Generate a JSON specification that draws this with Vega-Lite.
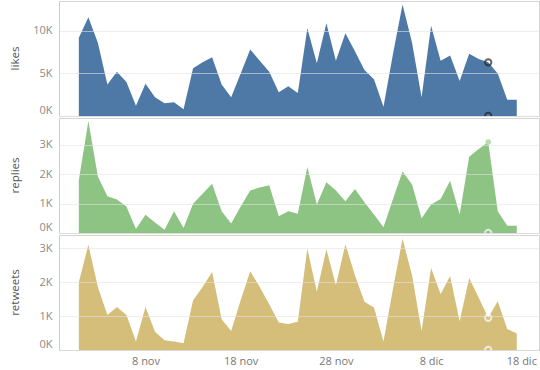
{
  "$schema": "https://vega.github.io/schema/vega-lite/v6.json",
  "padding": {"left": 8, "top": 0, "right": 1, "bottom": 0},
  "spacing": 2,
  "bounds": "flush",
  "config": {
    "font": "Open Sans",
    "view": {"stroke": "#d4d4d4", "strokeWidth": 1},
    "axis": {"labelFont": "Open Sans", "titleFont": "Open Sans", "labelColor": "#8a8a8a", "labelFontSize": 11, "titleColor": "#555555", "titleFontSize": 11.5, "titleFontWeight": "normal", "ticks": false, "domainColor": "#cccccc", "gridColor": "#e2e2e2", "gridOpacity": 0.6, "labelOverlap": false}
  },
  "data": {
    "values": [
      {"date": "2019-11-01", "likes": 9200, "replies": 1800, "retweets": 2000},
      {"date": "2019-11-02", "likes": 11600, "replies": 3820, "retweets": 3100},
      {"date": "2019-11-03", "likes": 8600, "replies": 1930, "retweets": 1860},
      {"date": "2019-11-04", "likes": 3700, "replies": 1250, "retweets": 1030},
      {"date": "2019-11-05", "likes": 5200, "replies": 1140, "retweets": 1270},
      {"date": "2019-11-06", "likes": 4000, "replies": 900, "retweets": 1030},
      {"date": "2019-11-07", "likes": 1200, "replies": 140, "retweets": 250},
      {"date": "2019-11-08", "likes": 3800, "replies": 620, "retweets": 1270},
      {"date": "2019-11-09", "likes": 2200, "replies": 360, "retweets": 540},
      {"date": "2019-11-10", "likes": 1500, "replies": 110, "retweets": 290},
      {"date": "2019-11-11", "likes": 1600, "replies": 740, "retweets": 250},
      {"date": "2019-11-12", "likes": 800, "replies": 170, "retweets": 200},
      {"date": "2019-11-13", "likes": 5600, "replies": 1000, "retweets": 1470},
      {"date": "2019-11-14", "likes": 6300, "replies": 1340, "retweets": 1860},
      {"date": "2019-11-15", "likes": 6900, "replies": 1680, "retweets": 2300},
      {"date": "2019-11-16", "likes": 3700, "replies": 740, "retweets": 910},
      {"date": "2019-11-17", "likes": 2200, "replies": 320, "retweets": 560},
      {"date": "2019-11-18", "likes": 5000, "replies": 900, "retweets": 1470},
      {"date": "2019-11-19", "likes": 7800, "replies": 1450, "retweets": 2320},
      {"date": "2019-11-20", "likes": 6500, "replies": 1550, "retweets": 1860},
      {"date": "2019-11-21", "likes": 5200, "replies": 1630, "retweets": 1350},
      {"date": "2019-11-22", "likes": 2800, "replies": 570, "retweets": 810},
      {"date": "2019-11-23", "likes": 3500, "replies": 740, "retweets": 770},
      {"date": "2019-11-24", "likes": 2700, "replies": 660, "retweets": 830},
      {"date": "2019-11-25", "likes": 10300, "replies": 2250, "retweets": 2990},
      {"date": "2019-11-26", "likes": 6200, "replies": 970, "retweets": 1720},
      {"date": "2019-11-27", "likes": 10900, "replies": 1730, "retweets": 2970},
      {"date": "2019-11-28", "likes": 6500, "replies": 1450, "retweets": 1910},
      {"date": "2019-11-29", "likes": 9700, "replies": 1080, "retweets": 3120},
      {"date": "2019-11-30", "likes": 7600, "replies": 1500, "retweets": 2200},
      {"date": "2019-12-01", "likes": 5400, "replies": 1050, "retweets": 1420},
      {"date": "2019-12-02", "likes": 4300, "replies": 630, "retweets": 1250},
      {"date": "2019-12-03", "likes": 1100, "replies": 200, "retweets": 250},
      {"date": "2019-12-04", "likes": 7300, "replies": 1160, "retweets": 1810},
      {"date": "2019-12-05", "likes": 13100, "replies": 2100, "retweets": 3280},
      {"date": "2019-12-06", "likes": 8600, "replies": 1650, "retweets": 2200},
      {"date": "2019-12-07", "likes": 2200, "replies": 500, "retweets": 560},
      {"date": "2019-12-08", "likes": 10600, "replies": 970, "retweets": 2420},
      {"date": "2019-12-09", "likes": 6500, "replies": 1160, "retweets": 1640},
      {"date": "2019-12-10", "likes": 7100, "replies": 1780, "retweets": 2180},
      {"date": "2019-12-11", "likes": 4100, "replies": 630, "retweets": 850},
      {"date": "2019-12-12", "likes": 7300, "replies": 2600, "retweets": 2120},
      {"date": "2019-12-13", "likes": 6700, "replies": 2860, "retweets": 1540},
      {"date": "2019-12-14", "likes": 6300, "replies": 3100, "retweets": 950},
      {"date": "2019-12-15", "likes": 5000, "replies": 740, "retweets": 1440},
      {"date": "2019-12-16", "likes": 1900, "replies": 250, "retweets": 620},
      {"date": "2019-12-17", "likes": 1900, "replies": 250, "retweets": 490}
    ],
    "format": {"parse": {"date": "date:'%Y-%m-%d'"}}
  },
  "vconcat": [
    {
      "width": 480, "height": 115,
      "encoding": {
        "x": {"field": "date", "type": "temporal", "axis": null, "scale": {"domain": [{"year": 2019, "month": 10, "date": 29, "hours": 22}, {"year": 2019, "month": 12, "date": 19, "hours": 8}]}}
      },
      "layer": [
        {
          "mark": {"type": "area", "color": "#4e79a7"},
          "encoding": {
            "y": {"field": "likes", "type": "quantitative", "title": "likes", "scale": {"domain": [0, 13500], "nice": false}, "axis": {"values": [0, 5000, 10000], "tickCount": 10, "zindex": 1, "labelOverlap": false, "labelExpr": "(datum.value/1000) + 'K'", "labelBaseline": {"condition": {"test": "datum.value == 0", "value": "bottom"}, "value": "middle"}, "labelOffset": {"condition": {"test": "datum.value == 0", "value": -1}, "value": 0}, "labelPadding": 7, "titleX": -44, "titleY": 57, "titleAngle": -90, "titleAlign": "center", "titleBaseline": "middle"}}
          }
        },
        {
          "transform": [{"filter": "month(datum.date) == 11 && date(datum.date) == 14"}],
          "mark": {"type": "point", "shape": "circle", "filled": false, "stroke": "#222222", "strokeWidth": 2, "size": 40, "clip": true},
          "encoding": {
            "y": {"field": "likes", "type": "quantitative"}
          }
        },
        {
          "transform": [{"filter": "month(datum.date) == 11 && date(datum.date) == 14"}],
          "mark": {"type": "point", "shape": "circle", "filled": false, "stroke": "#222222", "strokeWidth": 2, "size": 40, "clip": true},
          "encoding": {
            "y": {"datum": 0, "type": "quantitative"}
          }
        }
      ]
    },
    {
      "width": 480, "height": 115,
      "encoding": {
        "x": {"field": "date", "type": "temporal", "axis": null, "scale": {"domain": [{"year": 2019, "month": 10, "date": 29, "hours": 22}, {"year": 2019, "month": 12, "date": 19, "hours": 8}]}}
      },
      "layer": [
        {
          "mark": {"type": "area", "color": "#8dc383"},
          "encoding": {
            "y": {"field": "replies", "type": "quantitative", "title": "replies", "scale": {"domain": [0, 3920], "nice": false}, "axis": {"values": [0, 1000, 2000, 3000], "tickCount": 10, "zindex": 1, "labelOverlap": false, "labelExpr": "(datum.value/1000) + 'K'", "labelBaseline": {"condition": {"test": "datum.value == 0", "value": "bottom"}, "value": "middle"}, "labelOffset": {"condition": {"test": "datum.value == 0", "value": -1}, "value": 0}, "labelPadding": 7, "titleX": -44, "titleY": 57, "titleAngle": -90, "titleAlign": "center", "titleBaseline": "middle"}}
          }
        },
        {
          "transform": [{"filter": "month(datum.date) == 11 && date(datum.date) == 14"}],
          "mark": {"type": "point", "shape": "circle", "filled": true, "color": "#b5dcab", "opacity": 1, "size": 30, "clip": true},
          "encoding": {
            "y": {"field": "replies", "type": "quantitative"}
          }
        },
        {
          "transform": [{"filter": "month(datum.date) == 11 && date(datum.date) == 14"}],
          "mark": {"type": "point", "shape": "circle", "filled": false, "stroke": "#ffffff", "strokeWidth": 2, "size": 40, "clip": true},
          "encoding": {
            "y": {"datum": 0, "type": "quantitative"}
          }
        }
      ]
    },
    {
      "width": 480, "height": 115,
      "encoding": {
        "x": {"field": "date", "type": "temporal", "title": null, "scale": {"domain": [{"year": 2019, "month": 10, "date": 29, "hours": 22}, {"year": 2019, "month": 12, "date": 19, "hours": 8}]}, "axis": {"values": [{"year": 2019, "month": 11, "date": 8}, {"year": 2019, "month": 11, "date": 18}, {"year": 2019, "month": 11, "date": 28}, {"year": 2019, "month": 12, "date": 8}, {"year": 2019, "month": 12, "date": 18}], "tickCount": 10, "labelOverlap": false, "labelExpr": "date(datum.value) + ' ' + (month(datum.value) == 10 ? 'nov' : 'dic')", "labelOffset": {"condition": {"test": "month(datum.value) == 11 && date(datum.value) == 18", "value": -5}, "value": 0}, "grid": false, "labelPadding": 5, "labelFontSize": 11, "labelColor": "#777777"}}
      },
      "layer": [
        {
          "mark": {"type": "area", "color": "#d4be7a"},
          "encoding": {
            "y": {"field": "retweets", "type": "quantitative", "title": "retweets", "scale": {"domain": [0, 3390], "nice": false}, "axis": {"values": [0, 1000, 2000, 3000], "tickCount": 10, "zindex": 1, "labelOverlap": false, "labelExpr": "(datum.value/1000) + 'K'", "labelBaseline": {"condition": {"test": "datum.value == 0", "value": "bottom"}, "value": "middle"}, "labelOffset": {"condition": {"test": "datum.value == 0", "value": -1}, "value": 0}, "labelPadding": 7, "titleX": -44, "titleY": 57, "titleAngle": -90, "titleAlign": "center", "titleBaseline": "middle"}}
          }
        },
        {
          "transform": [{"filter": "month(datum.date) == 11 && date(datum.date) == 14"}],
          "mark": {"type": "point", "shape": "circle", "filled": false, "stroke": "#ffffff", "strokeWidth": 2, "size": 40, "clip": true},
          "encoding": {
            "y": {"field": "retweets", "type": "quantitative"}
          }
        },
        {
          "transform": [{"filter": "month(datum.date) == 11 && date(datum.date) == 14"}],
          "mark": {"type": "point", "shape": "circle", "filled": false, "stroke": "#ffffff", "strokeWidth": 2, "size": 40, "clip": true},
          "encoding": {
            "y": {"datum": 0, "type": "quantitative"}
          }
        }
      ]
    }
  ]
}
